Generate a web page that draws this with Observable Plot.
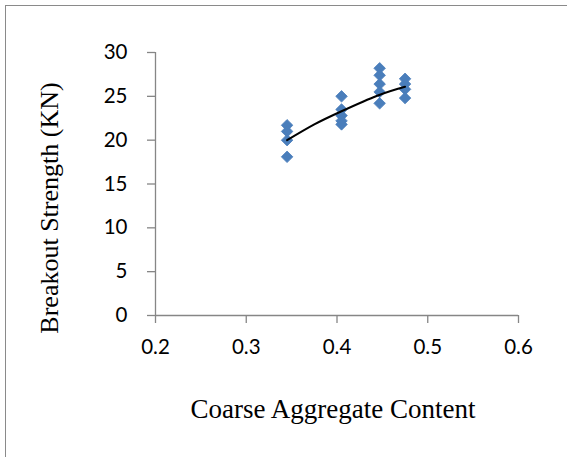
<!DOCTYPE html>
<html>
<head>
<meta charset="utf-8">
<script src="https://cdn.jsdelivr.net/npm/d3@7"></script>
<script src="https://cdn.jsdelivr.net/npm/@observablehq/plot@0.6"></script>
<style>
  html, body { margin: 0; padding: 0; background: #fff; overflow: hidden; }
  #wrap { position: relative; width: 567px; height: 457px; }
  #frame { position: absolute; left: 5px; top: 5px; width: 620px; height: 620px; border: 1.5px solid #8a8a8a; box-sizing: border-box; }
  #chart { position: absolute; left: 0; top: 0; }
</style>
</head>
<body>
<div id="wrap"><div id="frame"></div><div id="chart"></div></div>
<script>
// Measured points (coarse aggregate content vs breakout strength, kN)
const contentX = [0.345, 0.345, 0.345, 0.345,
                  0.405, 0.405, 0.405, 0.405, 0.405,
                  0.447, 0.447, 0.447, 0.447, 0.447,
                  0.475, 0.475, 0.475, 0.475];
const strengthY = [21.7, 21.0, 20.0, 18.1,
                   25.0, 23.5, 22.8, 22.2, 21.8,
                   28.2, 27.4, 26.4, 25.5, 24.2,
                   27.0, 26.4, 25.8, 24.8];
// Trendline
const trendX = [0.345, 0.375, 0.405, 0.445, 0.475];
const trendY = [20.0, 21.8, 23.3, 25.1, 26.1];

const xTicks = [0.2, 0.3, 0.4, 0.5, 0.6];
const yTicks = [0, 5, 10, 15, 20, 25, 30];
const xTitle = "Coarse Aggregate Content";
const yTitle = "Breakout Strength (KN)";

const points = contentX.map((x, i) => ({x, y: strengthY[i]}));
const trend = trendX.map((x, i) => ({x, y: trendY[i]}));

const axisGray = "#868686";
const tickFont = "Lato, 'Open Sans', sans-serif";
const titleFont = "'Liberation Serif', 'DejaVu Serif', serif";

const chart = Plot.plot({
  width: 567,
  height: 457,
  marginLeft: 155,
  marginRight: 49,
  marginTop: 52,
  marginBottom: 142,
  x: {domain: [0.2, 0.6]},
  y: {domain: [0, 30]},
  style: {background: "transparent", overflow: "visible"},
  marks: [
    Plot.ruleX([0.2], {stroke: axisGray, strokeWidth: 1.3}),
    Plot.ruleY([0], {stroke: axisGray, strokeWidth: 1.3}),
    Plot.axisX({ticks: xTicks, tickSize: 8, tickPadding: 16, stroke: axisGray, strokeWidth: 1.3, fill: "#000", fontSize: 20.5, fontFamily: tickFont, tickFormat: d3.format(".1f"), label: null}),
    Plot.axisY({ticks: yTicks, tickSize: 8, tickPadding: 20, stroke: axisGray, strokeWidth: 1.3, fill: "#000", fontSize: 20.5, fontFamily: tickFont, label: null}),
    Plot.dot(points, {x: "x", y: "y", symbol: "diamond2", r: 5.2, fill: "#4a7ebb", stroke: "#4a7ebb", strokeWidth: 0.8}),
    Plot.line(trend, {x: "x", y: "y", curve: "natural", stroke: "#000", strokeWidth: 2}),
    Plot.text([yTitle], {frameAnchor: "left", textAnchor: "middle", lineAnchor: "middle", dx: -106, dy: 24, rotate: -90, fontSize: 26, fontFamily: titleFont, fill: "#000"}),
    Plot.text([xTitle], {frameAnchor: "bottom", textAnchor: "middle", lineAnchor: "middle", dx: -4, dy: 94, fontSize: 27, fontFamily: titleFont, fill: "#000"})
  ]
});
document.getElementById("chart").appendChild(chart);
</script>
</body>
</html>
